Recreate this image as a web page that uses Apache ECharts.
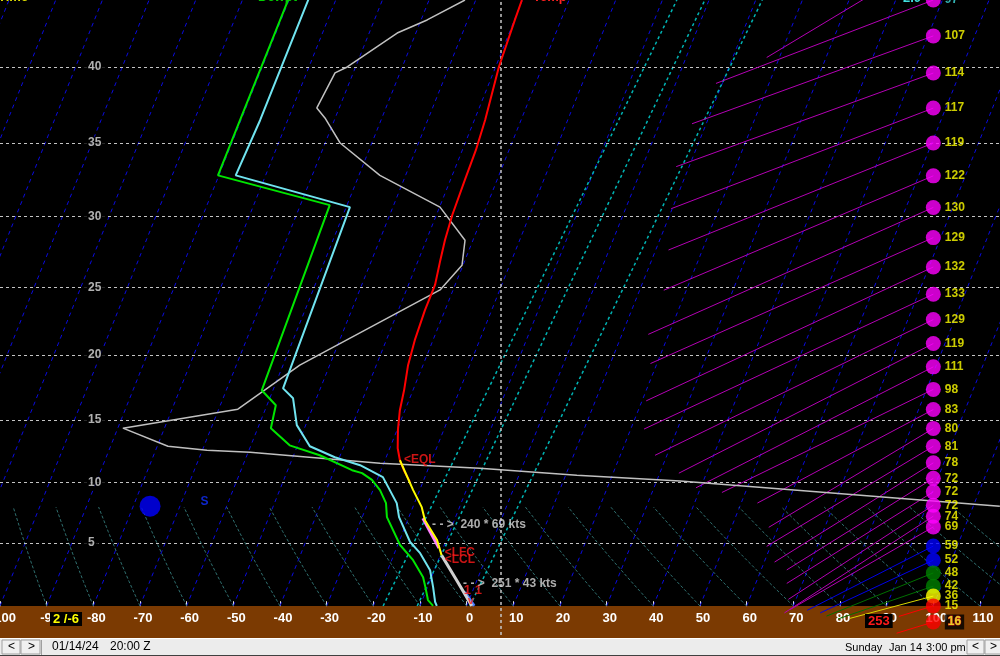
<!DOCTYPE html>
<html><head><meta charset="utf-8">
<script src="https://cdn.jsdelivr.net/npm/echarts@6/dist/echarts.min.js"></script>
<style>html,body{margin:0;padding:0;background:#000;overflow:hidden}#c{width:1000px;height:656px}</style>
</head><body><div id="c"></div>
<script>
// ---------------- DATA ----------------
const TEMP_TICK_STEP = 10;
const HEIGHT_LINES_KFT = [5, 10, 15, 20, 25, 30, 35, 40];
const ISOTHERMS = [-150,-140,-130,-120,-110,-100,-90,-80,-70,-60,-50,-40,-30,-20,-10,0,10,20,30,40,50,60,70,80,90,100,110];
const DRY_ADIABATS = [-100,-90,-80,-70,-60,-50,-40,-30,-20,-10,0,10,20,30,40,50,60,70,80,90,100,110,120,130];
const DRY_TOP_KFT = 8.0;
// [T at bottom, T at top]
const MIX_LINES = [[-17.9, -6.9], [-10.6, -0.9], [0.7, 11.4]];
const REF_VERTICAL_T = 7.4;

// profiles: [T degC, height kft]
const CYAN_PROFILE = [[-85.9,47.0],[-85.9,36.5],[-86.4,32.83],[-59.2,30.66],[-58.0,17.46],[-55.0,16.69],[-51.9,14.60],[-47.3,12.93],[-41.0,12.05],[-34.9,11.41],[-29.0,10.45],[-26.4,9.39],[-23.8,8.32],[-22.1,7.16],[-17.6,5.08],[-14.5,4.14],[-10.9,2.68],[-8.8,1.22],[-7.1,-0.07],[-6.4,-0.41]];
const GREEN_PROFILE = [[-90.2,47.0],[-90.2,36.5],[-90.2,32.83],[-63.7,30.8],[-62.4,17.31],[-58.1,16.15],[-57.2,14.36],[-51.7,13.0],[-44.4,12.21],[-36.2,11.01],[-33.8,10.77],[-31.1,10.22],[-28.5,9.39],[-26.1,8.32],[-24.7,7.16],[-19.5,4.83],[-15.4,3.54],[-11.8,2.08],[-10.3,1.12],[-8.8,0.10],[-7.2,-0.41]];
const RED_PROFILE = [[-40.1,44.4],[-39.9,43.09],[-39.3,40.0],[-37.7,36.52],[-37.1,34.52],[-36.9,32.49],[-36.6,30.12],[-36.0,28.35],[-35.2,26.79],[-34.3,25.17],[-34.3,23.32],[-33.9,21.11],[-33.2,19.23],[-31.9,17.31],[-31.1,15.77],[-29.8,14.2],[-28.3,12.77],[-26.8,11.81],[-25.1,11.01],[-22.8,10.06]];
const PARCEL_YELLOW = [[-26.8,11.81],[-21.4,9.39],[-18.1,7.99],[-16.3,6.91],[-12.0,5.25],[-9.7,3.95]];
const PARCEL_PINK = [[-16.9,7.07],[-10.9,4.57]];
const PARCEL_GRAY = [[-9.7,3.95],[-4.3,1.8],[1.1,-0.41]];
const PARCEL_BLUE = [[-1.6,0.79],[1.6,-0.41]];
const GRAY_LINE = [[-52.3,44.4],[-58.7,43.09],[-64.0,42.23],[-71.8,40.0],[-73.9,39.61],[-74.8,37.31],[-72.2,36.65],[-66.8,35.0],[-55.5,32.83],[-39.9,30.66],[-31.7,28.35],[-30.2,26.58],[-32.8,24.81],[-56.4,19.23],[-65.9,15.85],[-88.9,14.36],[-77.7,12.93],[-69.0,12.61],[-59.6,12.45],[-30.8,11.57],[-9.0,11.17],[12.4,10.6],[35.0,10.13],[105.7,8.07]];

// winds
const WIND_KFT = [47.2,44.4,42.04,39.6,37.3,35.0,32.8,30.64,28.54,26.46,24.5,22.64,20.86,19.1,17.38,15.82,14.34,12.93,11.6,10.35,9.25,8.15,7.24,6.35,4.74,3.54,2.45,1.31,0.45,-0.41,-1.83];
const WIND_DIR = [239,249,250,250,249,248,247,246,246,245,245,244,243,243,244,242,239,239,238,238,238,237,237,240,243,245,248,251,255,253,253];
const WIND_SPD = [81,97,107,114,117,119,122,130,129,132,133,129,119,111,98,83,80,81,78,72,72,72,74,69,59,52,48,42,36,15,16];
const WIND_NOTE_KFT = [6.5, 1.48];
const WIND_NOTE_T = [-15.2, -3.5];
const WIND_NOTE_DIR = [240, 251];
const WIND_NOTE_SPD = [69, 43];

const BLUE_MARK = {T: -76.4, kft: 8.07, label: 'S'};
const SFC_T = 2, SFC_TD = -6, SFC_WIND_DIR = 253;
const DATE_TEXT = '01/14/24', TIME_TEXT = '20:00 Z';
const LOCAL_DAY = 'Sunday', LOCAL_DATE = 'Jan 14', LOCAL_TIME = '3:00 pm';

// ---------------- SCALES ----------------
const X_MIN = -100, X_MAX = 114.29;
const GRID_W = 1000, GRID_H = 606;
const KFT_BOTTOM = -0.42, KFT_TOP = 44.4;
function zOf(kft) {
  const m = kft * 304.8;
  if (m <= 11000) return -5.25588 * Math.log(1 - 2.25577e-5 * m);
  return 1.49898 + (m - 11000) / 6341.6;
}
const Z_MIN = zOf(KFT_BOTTOM), Z_MAX = zOf(KFT_TOP);
const PX_PER_X = GRID_W / (X_MAX - X_MIN);
const PX_PER_Z = GRID_H / (Z_MAX - Z_MIN);
const K_SKEW = 0.4 * PX_PER_Z / PX_PER_X;
function pt(T, kft) { const z = zOf(kft); return [T + K_SKEW * (z - Z_MIN), z]; }

const FONT = "'Liberation Sans', Arial, sans-serif";
const series = [];

// isotherms
series.push({type:'lines', coordinateSystem:'cartesian2d', silent:true, animation:false, clip:true, z:2,
  lineStyle:{color:'#0a0ae0', width:1, type:[4,4], opacity:1},
  data: ISOTHERMS.map(T => ({coords:[pt(T, KFT_BOTTOM), pt(T, KFT_TOP)]}))});
// dry adiabats (lower part only)
series.push({type:'lines', coordinateSystem:'cartesian2d', polyline:true, silent:true, animation:false, clip:true, z:2,
  lineStyle:{color:'#2f6f6f', width:1, type:[3,2], opacity:1},
  data: DRY_ADIABATS.map(T0 => {
    const zt = zOf(DRY_TOP_KFT), c = [];
    for (let i = 0; i <= 4; i++) {
      const z = Z_MIN + (zt - Z_MIN) * i / 4;
      const T = (T0 + 273.15) * Math.exp(-0.2857 * (z - Z_MIN)) - 273.15;
      c.push([T + K_SKEW * (z - Z_MIN), z]);
    }
    return {coords: c};
  })});
// cyan dashed guide lines
series.push({type:'lines', coordinateSystem:'cartesian2d', silent:true, animation:false, clip:true, z:2,
  lineStyle:{color:'#00b4b4', width:1.5, type:[3,3], opacity:1},
  data: MIX_LINES.map(m => ({coords:[pt(m[0], KFT_BOTTOM), pt(m[1], KFT_TOP)]}))});
// height grid lines
series.push({type:'lines', coordinateSystem:'cartesian2d', silent:true, animation:false, clip:true, z:2,
  lineStyle:{color:'#c4c4c4', width:1, type:[3,3], opacity:1},
  data: HEIGHT_LINES_KFT.map(h => ({coords:[[X_MIN, zOf(h)], [X_MAX, zOf(h)]]}))});
// vertical dotted reference line (extends into bottom bar)
series.push({type:'lines', coordinateSystem:'cartesian2d', silent:true, animation:false, clip:false, z:2,
  lineStyle:{color:'#c8c8c8', width:1.5, type:[3,3], opacity:1},
  data: [{coords:[[REF_VERTICAL_T, zOf(-2.98)], [REF_VERTICAL_T, Z_MAX]]}]});

// wind vectors
const PX_PER_KT = 2.4, WIND_X = 100;
function windColor(s) { return s >= 60 ? '#ff00ff' : s >= 50 ? '#0000ff' : s >= 40 ? '#008000' : s >= 30 ? '#ffff00' : '#ff0000'; }
function windLineColor(s) { return s >= 60 ? '#b400b4' : s >= 50 ? '#0000e8' : s >= 40 ? '#007000' : s >= 30 ? '#d8d800' : '#ff0000'; }
series.push({type:'lines', coordinateSystem:'cartesian2d', silent:true, animation:false, clip:false, z:3,
  data: WIND_KFT.map((h, i) => {
    const r = WIND_DIR[i] * Math.PI / 180, L = PX_PER_KT * WIND_SPD[i];
    const z = zOf(h);
    return {coords:[[WIND_X, z], [WIND_X + L * Math.sin(r) / PX_PER_X, z + L * Math.cos(r) / PX_PER_Z]],
      lineStyle:{color: windLineColor(WIND_SPD[i]), width:1, opacity:1}};
  })});

function lineSeries(pts, color, width, z) {
  return {type:'line', data: pts.map(p => pt(p[0], p[1])), symbol:'none', showSymbol:false, silent:true,
    animation:false, clip:true, z: z || 4, lineStyle:{color, width}};
}
series.push(lineSeries(GRAY_LINE, '#c0c0c0', 1.5, 4));
series.push(lineSeries(GREEN_PROFILE, '#00e600', 2, 5));
series.push(lineSeries(CYAN_PROFILE, '#70e4f0', 2, 5));
series.push(lineSeries(RED_PROFILE, '#ff0000', 2, 5));
series.push(lineSeries(PARCEL_PINK, '#ff80ff', 3, 5));
series.push(lineSeries(PARCEL_YELLOW, '#ffff00', 2, 5));
series.push(lineSeries(PARCEL_BLUE, '#4a7cff', 3, 5));
series.push(lineSeries(PARCEL_GRAY, '#d0d0d0', 3, 5));

// wind dots
series.push({type:'scatter', silent:true, animation:false, clip:false, z:6, symbolSize:15,
  data: WIND_KFT.map((h, i) => {
    const s = WIND_SPD[i];
    const item = {value:[WIND_X, zOf(h), s], itemStyle:{color: windColor(s)}};
    if (i === 1) item.label = {color:'#40e0e0'};
    if (i === WIND_KFT.length - 1) item.label = {color:'#ffff30', backgroundColor:'#000', padding:[2,3,1,3], textBorderColor:'#ff2020', textBorderWidth:1};
    return item;
  }),
  label:{show:true, position:'right', distance:4, formatter: p => String(p.value[2]), color:'#ffff00',
    fontWeight:'bold', fontSize:12, fontFamily:FONT}});

// height labels
series.push({type:'scatter', silent:true, animation:false, z:6, symbolSize:0,
  data: HEIGHT_LINES_KFT.map(h => ({value:[-82.0, zOf(h), h]})),
  label:{show:true, position:'right', distance:0, formatter: p => String(p.value[2]), color:'#dcdcdc',
    fontWeight:'bold', fontSize:12, fontFamily:FONT, backgroundColor:'#000', padding:[1,4,0,4]}});

// parcel labels
const eql = pt(PARCEL_YELLOW[0][0], PARCEL_YELLOW[0][1]);
const lcl = pt(PARCEL_YELLOW[PARCEL_YELLOW.length-1][0], PARCEL_YELLOW[PARCEL_YELLOW.length-1][1]);
const sfc = pt(PARCEL_GRAY[PARCEL_GRAY.length-1][0], PARCEL_GRAY[PARCEL_GRAY.length-1][1]);
const redLab = {show:true, color:'#ff1a1a', fontWeight:'bold', fontSize:12, fontFamily:FONT};
series.push({type:'scatter', silent:true, animation:false, clip:false, z:7, symbolSize:0,
  data:[
    {value: eql, label: Object.assign({}, redLab, {position:'right', distance:4, formatter:'<EQL', offset:[0,-1]})},
    {value: lcl, label: Object.assign({}, redLab, {position:'right', distance:3, formatter:'<LFC', offset:[0,-3]})},
    {value: lcl, label: Object.assign({}, redLab, {position:'right', distance:3, formatter:'<LCL', offset:[0,4]})},
    {value: sfc, label: Object.assign({}, redLab, {position:'inside', formatter:'1 1', fontSize:13, offset:[1,-15]})},
    {value: sfc, label: Object.assign({}, redLab, {position:'inside', formatter:'v', fontSize:11, offset:[-1,-5]})}
  ]});
// wind notes
series.push({type:'scatter', silent:true, animation:false, z:7, symbolSize:0,
  data: WIND_NOTE_KFT.map((h, i) => ({value: pt(WIND_NOTE_T[i], h).concat([WIND_NOTE_DIR[i], WIND_NOTE_SPD[i]])})),
  label:{show:true, position:'right', distance:4, color:'#d8d8d8', fontWeight:'bold', fontSize:12, fontFamily:FONT,
    formatter: p => '- - >  ' + p.value[2] + ' * ' + p.value[3] + ' kts'}});
// blue mark
series.push({type:'scatter', silent:true, animation:false, z:7, symbolSize:21,
  data:[{value: pt(BLUE_MARK.T, BLUE_MARK.kft)}], itemStyle:{color:'#0000ff'},
  label:{show:true, position:'right', distance:40, offset:[0,-4], formatter: BLUE_MARK.label, color:'#1030ff',
    fontWeight:'bold', fontSize:12, fontFamily:FONT}});

const bold13 = 'bold 13px ' + FONT;
const norm11 = '11px ' + FONT;
const norm12 = '12px ' + FONT;
const graphic = [
  {type:'rect', z:-1, shape:{x:0, y:606, width:1000, height:32}, style:{fill:'#7b3a02'}},
  {type:'rect', z:-1, shape:{x:0, y:638, width:1000, height:18}, style:{fill:'#ececec'}},
  {type:'line', z:-1, shape:{x1:0, y1:638.5, x2:1000, y2:638.5}, style:{stroke:'#ffffff', lineWidth:1}},
  {type:'line', z:-1, shape:{x1:0, y1:655.5, x2:1000, y2:655.5}, style:{stroke:'#404040', lineWidth:1}},
  {type:'rect', z:1, shape:{x:2, y:640, width:18, height:14}, style:{fill:'#f0f0f0', stroke:'#a0a0a0', lineWidth:1}},
  {type:'rect', z:1, shape:{x:21, y:640, width:19, height:14}, style:{fill:'#f0f0f0', stroke:'#a0a0a0', lineWidth:1}},
  {type:'text', z:2, x:8, y:641, style:{text:'<', font:norm12, fill:'#000'}},
  {type:'text', z:2, x:28, y:641, style:{text:'>', font:norm12, fill:'#000'}},
  {type:'line', z:1, shape:{x1:41.5, y1:640, x2:41.5, y2:655}, style:{stroke:'#a0a0a0', lineWidth:1}},
  {type:'text', z:2, x:52, y:641, style:{text: DATE_TEXT, font:norm12, fill:'#000'}},
  {type:'text', z:2, x:110, y:641, style:{text: TIME_TEXT, font:norm12, fill:'#000'}},
  {type:'text', z:2, x:845, y:642, style:{text: LOCAL_DAY, font:norm11, fill:'#000'}},
  {type:'text', z:2, x:889, y:642, style:{text: LOCAL_DATE, font:norm11, fill:'#000'}},
  {type:'text', z:2, x:926, y:642, style:{text: LOCAL_TIME, font:norm11, fill:'#000'}},
  {type:'rect', z:1, shape:{x:967, y:640, width:17, height:14}, style:{fill:'#f0f0f0', stroke:'#a0a0a0', lineWidth:1}},
  {type:'rect', z:1, shape:{x:985, y:640, width:16, height:14}, style:{fill:'#f0f0f0', stroke:'#a0a0a0', lineWidth:1}},
  {type:'text', z:2, x:972, y:641, style:{text:'<', font:norm12, fill:'#000'}},
  {type:'text', z:2, x:990, y:641, style:{text:'>', font:norm12, fill:'#000'}},
  {type:'text', z:50, x:50, y:612, style:{text: SFC_T + ' /' + SFC_TD, font:bold13, fill:'#ffff00', backgroundColor:'#000', padding:[1,3,0,3]}},
  {type:'text', z:50, x:865, y:614, style:{text: String(SFC_WIND_DIR), font:bold13, fill:'#ff1a1a', backgroundColor:'#000', padding:[1,3,0,3]}},
  // partially visible headers at the top edge
  {type:'text', z:50, x:-2, y:-9, style:{text:'Time', font:bold13, fill:'#e0e000'}},
  {type:'text', z:50, x:258, y:-9, style:{text:'Dewpt', font:bold13, fill:'#00d000'}},
  {type:'text', z:50, x:533, y:-9, style:{text:'Temp', font:bold13, fill:'#ff2020'}},
  {type:'text', z:50, x:903, y:-8, style:{text:'2.0', font:bold13, fill:'#40e0e0'}}
];

const option = {
  backgroundColor:'#000',
  animation:false,
  grid:{left:0, right:0, top:0, bottom:656-GRID_H, containLabel:false, outerBoundsMode:'none'},
  xAxis:{type:'value', min:X_MIN, max:X_MAX, interval:TEMP_TICK_STEP,
    axisLine:{show:false}, splitLine:{show:false},
    axisTick:{show:true, length:5, lineStyle:{color:'#e0e0e0', width:1}},
    axisLabel:{color:'#ffffff', fontWeight:'bold', fontSize:13, fontFamily:FONT, margin:6, padding:[0,0,0,6],
      showMaxLabel:false,
      formatter: v => (Math.abs(v % TEMP_TICK_STEP) < 1e-6 ? String(v) : '')}},
  yAxis:{type:'value', min:Z_MIN, max:Z_MAX, show:false},
  graphic: graphic,
  series: series
};
const chart = echarts.init(document.getElementById('c'), null, {renderer:'canvas', width:1000, height:656});
chart.setOption(option);
</script>
</body></html>
